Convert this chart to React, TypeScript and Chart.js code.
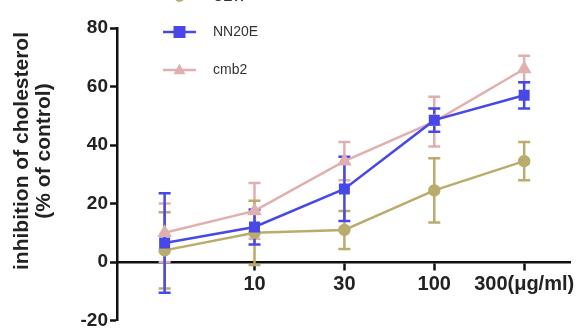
import React, { useEffect, useRef } from 'react';
import { Chart, registerables } from 'chart.js';

Chart.register(...registerables);

// ---- data ----
const doseLabels = ['', '10', '30', '100', '300(μg/ml)'];
const doseIndex = [0, 1, 2, 3, 4];
const seriesNames = ['CEW', 'NN20E', 'cmb2'];
const cewMean = [4, 10, 11, 24.5, 34.5];
const cewErr = [13, 11, 6.5, 11, 6.5];
const nn20eMean = [6.5, 12, 25, 48.5, 57];
const nn20eErr = [17, 6, 11, 4, 4.5];
const cmb2Mean = [10, 17.5, 34.5, 48, 66];
const cmb2Err = [10, 9.5, 6.5, 8.5, 4.5];
const yTicks = [-20, 0, 20, 40, 60, 80];
const yTitle = ['inhibition of cholesterol', '(% of control)'];

// ---- styles ----
const FONT = "'Liberation Sans', Arial, sans-serif";
const colors = ['#b9ac6c', '#4848e8', '#e0b0b0'];
const pointStyles = ['circle', 'rect', 'triangle'];
const pointRadii = [5, 6, 6];
const legendRowY = [-3, 32, 70];
const AXIS = '#111';

const errorBarPlugin = {
  id: 'errorBars',
  beforeDatasetsDraw(chart: any) {
    const { ctx, scales } = chart;
    const xs = scales.x;
    const ys = scales.y;
    const order = chart.data.datasets
      .map((d: any, i: number) => i)
      .sort((a: number, b: number) => (chart.data.datasets[b].order ?? 0) - (chart.data.datasets[a].order ?? 0));
    order.forEach((di: number) => {
      const ds: any = chart.data.datasets[di];
      const errs: number[] = ds.errors;
      ctx.save();
      ctx.strokeStyle = ds.borderColor;
      ctx.lineWidth = 2.5;
      ds.data.forEach((p: any, i: number) => {
        const px = xs.getPixelForValue(p.x);
        const top = ys.getPixelForValue(p.y + errs[i]);
        const bot = ys.getPixelForValue(p.y - errs[i]);
        ctx.beginPath();
        ctx.moveTo(px, top);
        ctx.lineTo(px, bot);
        ctx.moveTo(px - 6, top);
        ctx.lineTo(px + 6, top);
        ctx.moveTo(px - 6, bot);
        ctx.lineTo(px + 6, bot);
        ctx.stroke();
      });
      ctx.restore();
    });
  },
};

function drawMarker(ctx: CanvasRenderingContext2D, style: string, x: number, y: number, r: number) {
  ctx.beginPath();
  if (style === 'circle') {
    ctx.arc(x, y, r, 0, Math.PI * 2);
  } else if (style === 'rect') {
    ctx.rect(x - r, y - r, 2 * r, 2 * r);
  } else {
    ctx.moveTo(x, y - r * 1.1);
    ctx.lineTo(x + r, y + r * 0.7);
    ctx.lineTo(x - r, y + r * 0.7);
    ctx.closePath();
  }
  ctx.fill();
}

const legendPlugin = {
  id: 'customLegend',
  afterDraw(chart: any) {
    const { ctx } = chart;
    ctx.save();
    chart.data.datasets.forEach((ds: any, i: number) => {
      const y = legendRowY[i];
      ctx.strokeStyle = ds.borderColor;
      ctx.fillStyle = ds.borderColor;
      ctx.lineWidth = 2.5;
      ctx.beginPath();
      ctx.moveTo(163, y);
      ctx.lineTo(196, y);
      ctx.stroke();
      drawMarker(ctx, ds.pointStyle, 179.5, y, ds.pointRadius);
      ctx.fillStyle = '#333';
      ctx.font = `14px ${FONT}`;
      ctx.textBaseline = 'middle';
      ctx.textAlign = 'left';
      ctx.fillText(ds.label, 213, y);
    });
    ctx.restore();
  },
};

const yTitlePlugin = {
  id: 'yTitle',
  afterDraw(chart: any) {
    const { ctx } = chart;
    ctx.save();
    ctx.fillStyle = '#222';
    ctx.font = `bold 21px ${FONT}`;
    ctx.textAlign = 'center';
    ctx.textBaseline = 'middle';
    yTitle.forEach((line, i) => {
      ctx.save();
      ctx.translate(22 + i * 22, 151);
      ctx.rotate(-Math.PI / 2);
      ctx.fillText(line, 0, 0);
      ctx.restore();
    });
    ctx.restore();
  },
};

export default function App() {
  const ref = useRef<HTMLCanvasElement>(null);
  useEffect(() => {
    if (!ref.current) return;
    const means = [cewMean, nn20eMean, cmb2Mean];
    const errs = [cewErr, nn20eErr, cmb2Err];
    const drawOrder = [1, 0, 2];
    const chart = new Chart(ref.current, {
      type: 'line',
      data: {
        datasets: seriesNames.map((name, s) => ({
          label: name,
          data: doseIndex.map((x, i) => ({ x, y: means[s][i] })),
          errors: errs[s],
          borderColor: colors[s],
          backgroundColor: colors[s],
          pointBackgroundColor: colors[s],
          pointBorderColor: colors[s],
          pointStyle: pointStyles[s],
          pointRadius: pointRadii[s],
          borderWidth: 2.5,
          tension: 0,
          order: drawOrder[s],
        })) as any,
      },
      options: {
        animation: false,
        responsive: false,
        devicePixelRatio: 1,
        layout: { padding: { top: 28, right: 14, bottom: 13, left: 0 } },
        plugins: { legend: { display: false }, tooltip: { enabled: false } },
        scales: {
          x: {
            type: 'linear',
            min: -0.53,
            max: 4.51,
            position: { y: 0 } as any,
            afterBuildTicks: (s: any) => {
              s.ticks = doseIndex.filter((i) => doseLabels[i] !== '').map((v) => ({ value: v }));
            },
            grid: { display: true, drawOnChartArea: false, drawTicks: true, tickLength: 7, tickWidth: 2.5, tickColor: AXIS },
            border: { display: true, color: AXIS, width: 2.5 },
            ticks: {
              autoSkip: false,
              maxRotation: 0,
              minRotation: 0,
              padding: 3,
              color: '#222',
              font: { family: FONT, size: 20, weight: 'bold' },
              callback: (v: any) => doseLabels[v] ?? '',
            },
          },
          y: {
            type: 'linear',
            min: -20,
            max: 80,
            afterBuildTicks: (s: any) => {
              s.ticks = yTicks.map((v) => ({ value: v }));
            },
            afterFit: (s: any) => {
              s.width = 117;
            },
            grid: { display: true, drawOnChartArea: false, drawTicks: true, tickLength: 7, tickWidth: 2.5, tickColor: AXIS },
            border: { display: true, color: AXIS, width: 2.5 },
            ticks: {
              padding: 2,
              color: '#222',
              font: { family: FONT, size: 19, weight: 'bold' },
            },
          },
        },
      },
      plugins: [errorBarPlugin, legendPlugin, yTitlePlugin],
    });
    return () => chart.destroy();
  }, []);
  return (
    <div style={{ position: 'fixed', left: 0, top: 0, width: 584, height: 334, background: '#fff' }}>
      <canvas ref={ref} width={584} height={334} />
    </div>
  );
}
